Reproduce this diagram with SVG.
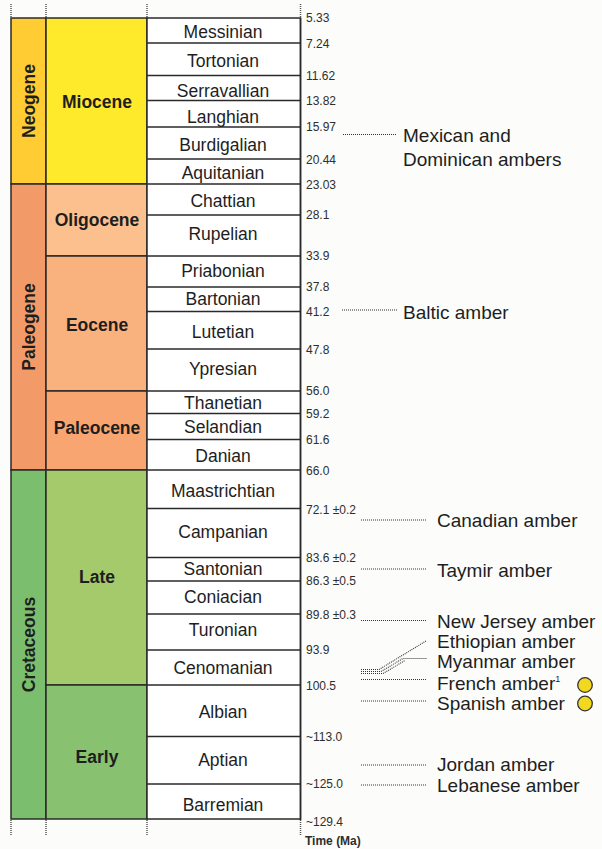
<svg xmlns="http://www.w3.org/2000/svg" width="602" height="849" viewBox="0 0 602 849">
<defs>
<style>
.bx{stroke:#2a2a2a;stroke-width:1.5}
.st{font-family:"Liberation Sans",Arial,sans-serif;font-size:17.5px;fill:#1e1e1e;text-anchor:middle}
.ep{font-family:"Liberation Sans",Arial,sans-serif;font-size:17.5px;font-weight:bold;fill:#1e1e1e;text-anchor:middle}
.num{font-family:"Liberation Sans",Arial,sans-serif;font-size:12px;fill:#2e2e2e}
.am{font-family:"Liberation Sans",Arial,sans-serif;font-size:19px;fill:#1e1e1e}
.dot{stroke:#333;stroke-width:1.1;stroke-dasharray:1 1;fill:none}
.vd{stroke:#555;stroke-width:1.5;stroke-dasharray:1 1}
.ln{stroke:#2a2a2a;stroke-width:1.5}
.cir{fill:#F2D81E;stroke:#333;stroke-width:1.3}
</style>
</defs>
<rect x="0" y="0" width="602" height="849" fill="#FCFCFA"/>

<g id="guides">
<line class="vd" x1="11" y1="4" x2="11" y2="18"/>
<line class="vd" x1="46" y1="4" x2="46" y2="18"/>
<line class="vd" x1="147" y1="4" x2="147" y2="18"/>
<line class="vd" x1="300.5" y1="4" x2="300.5" y2="18"/>
<line class="vd" x1="11" y1="820" x2="11" y2="836"/>
<line class="vd" x1="46" y1="820" x2="46" y2="836"/>
<line class="vd" x1="147" y1="820" x2="147" y2="836"/>
<line class="vd" x1="300.5" y1="820" x2="300.5" y2="836"/>
</g>

<g id="period-neogene"><rect class="bx" x="11" y="18" width="35" height="166" fill="#FFCC33"/><text class="ep" transform="translate(34.5,101) rotate(-90)">Neogene</text></g>
<g id="period-paleogene"><rect class="bx" x="11" y="184" width="35" height="286" fill="#F39B68"/><text class="ep" transform="translate(34.5,327) rotate(-90)">Paleogene</text></g>
<g id="period-cretaceous"><rect class="bx" x="11" y="470" width="35" height="349" fill="#7BBE6D"/><text class="ep" transform="translate(34.5,644.5) rotate(-90)">Cretaceous</text></g>

<g id="epoch-miocene"><rect class="bx" x="46" y="18" width="101" height="166" fill="#FFE92B"/><text class="ep" x="97" y="108">Miocene</text></g>
<g id="epoch-oligocene"><rect class="bx" x="46" y="184" width="101" height="72" fill="#FCC08E"/><text class="ep" x="97" y="226">Oligocene</text></g>
<g id="epoch-eocene"><rect class="bx" x="46" y="256" width="101" height="135" fill="#F9B17E"/><text class="ep" x="97" y="331">Eocene</text></g>
<g id="epoch-paleocene"><rect class="bx" x="46" y="391" width="101" height="79" fill="#F8A571"/><text class="ep" x="97" y="434">Paleocene</text></g>
<g id="epoch-late"><rect class="bx" x="46" y="470" width="101" height="215" fill="#A5CA6B"/><text class="ep" x="97" y="583">Late</text></g>
<g id="epoch-early"><rect class="bx" x="46" y="685" width="101" height="134" fill="#88C170"/><text class="ep" x="97" y="763">Early</text></g>

<g id="stages">
<rect class="bx" x="147" y="18" width="153.5" height="801" fill="#FFFFFF"/>
<g class="ln">
<line x1="147" y1="43" x2="300" y2="43"/>
<line x1="147" y1="75.5" x2="300" y2="75.5"/>
<line x1="147" y1="100.5" x2="300" y2="100.5"/>
<line x1="147" y1="127" x2="300" y2="127"/>
<line x1="147" y1="159" x2="300" y2="159"/>
<line x1="147" y1="184" x2="300" y2="184"/>
<line x1="147" y1="215" x2="300" y2="215"/>
<line x1="147" y1="256" x2="300" y2="256"/>
<line x1="147" y1="287" x2="300" y2="287"/>
<line x1="147" y1="311.5" x2="300" y2="311.5"/>
<line x1="147" y1="349" x2="300" y2="349"/>
<line x1="147" y1="391" x2="300" y2="391"/>
<line x1="147" y1="413.5" x2="300" y2="413.5"/>
<line x1="147" y1="439.5" x2="300" y2="439.5"/>
<line x1="147" y1="470" x2="300" y2="470"/>
<line x1="147" y1="508.5" x2="300" y2="508.5"/>
<line x1="147" y1="557.5" x2="300" y2="557.5"/>
<line x1="147" y1="581" x2="300" y2="581"/>
<line x1="147" y1="614" x2="300" y2="614"/>
<line x1="147" y1="650" x2="300" y2="650"/>
<line x1="147" y1="685" x2="300" y2="685"/>
<line x1="147" y1="736.5" x2="300" y2="736.5"/>
<line x1="147" y1="784" x2="300" y2="784"/>
</g>
<line class="ln" x1="300.5" y1="18" x2="300.5" y2="820"/>
</g>

<g id="stage-labels">
<text class="st" x="223" y="38">Messinian</text>
<text class="st" x="223" y="67">Tortonian</text>
<text class="st" x="223" y="97">Serravallian</text>
<text class="st" x="223" y="123">Langhian</text>
<text class="st" x="223" y="151">Burdigalian</text>
<text class="st" x="223" y="179">Aquitanian</text>
<text class="st" x="223" y="207">Chattian</text>
<text class="st" x="223" y="239.5">Rupelian</text>
<text class="st" x="223" y="277">Priabonian</text>
<text class="st" x="223" y="305">Bartonian</text>
<text class="st" x="223" y="338">Lutetian</text>
<text class="st" x="223" y="374.5">Ypresian</text>
<text class="st" x="223" y="409">Thanetian</text>
<text class="st" x="223" y="433">Selandian</text>
<text class="st" x="223" y="462">Danian</text>
<text class="st" x="223" y="496.5">Maastrichtian</text>
<text class="st" x="223" y="538">Campanian</text>
<text class="st" x="223" y="574.5">Santonian</text>
<text class="st" x="223" y="603">Coniacian</text>
<text class="st" x="223" y="636">Turonian</text>
<text class="st" x="223" y="673.5">Cenomanian</text>
<text class="st" x="223" y="718">Albian</text>
<text class="st" x="223" y="765.5">Aptian</text>
<text class="st" x="223" y="810.5">Barremian</text>
</g>

<g id="ages">
<text class="num" x="306" y="21.5">5.33</text>
<text class="num" x="306" y="47.5">7.24</text>
<text class="num" x="306" y="80">11.62</text>
<text class="num" x="306" y="105">13.82</text>
<text class="num" x="306" y="131">15.97</text>
<text class="num" x="306" y="164">20.44</text>
<text class="num" x="306" y="189">23.03</text>
<text class="num" x="306" y="219">28.1</text>
<text class="num" x="306" y="260">33.9</text>
<text class="num" x="306" y="291">37.8</text>
<text class="num" x="306" y="316">41.2</text>
<text class="num" x="306" y="353.5">47.8</text>
<text class="num" x="306" y="395">56.0</text>
<text class="num" x="306" y="418">59.2</text>
<text class="num" x="306" y="444">61.6</text>
<text class="num" x="306" y="474.5">66.0</text>
<text class="num" x="306" y="514">72.1 ±0.2</text>
<text class="num" x="306" y="562">83.6 ±0.2</text>
<text class="num" x="306" y="585">86.3 ±0.5</text>
<text class="num" x="306" y="619">89.8 ±0.3</text>
<text class="num" x="306" y="654">93.9</text>
<text class="num" x="306" y="690">100.5</text>
<text class="num" x="306" y="741">~113.0</text>
<text class="num" x="306" y="788">~125.0</text>
<text class="num" x="306" y="825.5">~129.4</text>
<text class="num" x="305" y="844.5" font-weight="bold">Time (Ma)</text>
</g>

<g id="connectors">
<line class="dot" x1="343" y1="134.5" x2="397" y2="134.5"/>
<line class="dot" x1="342" y1="310" x2="397" y2="310"/>
<line class="dot" x1="361" y1="520" x2="427" y2="520"/>
<line class="dot" x1="361" y1="569" x2="427" y2="569"/>
<line class="dot" x1="361" y1="620.5" x2="427" y2="620.5"/>
<polyline class="dot" points="361,669.5 379,669.5 426,641"/>
<polyline class="dot" points="361,671.5 381,671.5 403,658.5 427,658.5"/>
<polyline class="dot" points="361,673.5 383,673.5 405,660.5"/>
<line class="dot" x1="361" y1="679.5" x2="427" y2="679.5"/>
<line class="dot" x1="361" y1="701" x2="427" y2="701"/>
<line class="dot" x1="361" y1="765" x2="427" y2="765"/>
<line class="dot" x1="361" y1="785" x2="427" y2="785"/>
</g>

<g id="amber-mexican"><text class="am" x="403" y="142">Mexican and</text><text class="am" x="403" y="166">Dominican ambers</text></g>
<g id="amber-baltic"><text class="am" x="403" y="318.5">Baltic amber</text></g>
<g id="amber-canadian"><text class="am" x="437" y="527">Canadian amber</text></g>
<g id="amber-taymir"><text class="am" x="437" y="576.5">Taymir amber</text></g>
<g id="amber-newjersey"><text class="am" x="437" y="627.5">New Jersey amber</text></g>
<g id="amber-ethiopian"><text class="am" x="437" y="647.5">Ethiopian amber</text></g>
<g id="amber-myanmar"><text class="am" x="437" y="667.5">Myanmar amber</text></g>
<g id="amber-french"><text class="am" x="437" y="690">French amber<tspan font-size="9" dy="-8">1</tspan></text><circle class="cir" cx="585" cy="685" r="7.3"/></g>
<g id="amber-spanish"><text class="am" x="437" y="710">Spanish amber</text><circle class="cir" cx="585" cy="703.5" r="7.3"/></g>
<g id="amber-jordan"><text class="am" x="437" y="771">Jordan amber</text></g>
<g id="amber-lebanese"><text class="am" x="437" y="792">Lebanese amber</text></g>
</svg>
